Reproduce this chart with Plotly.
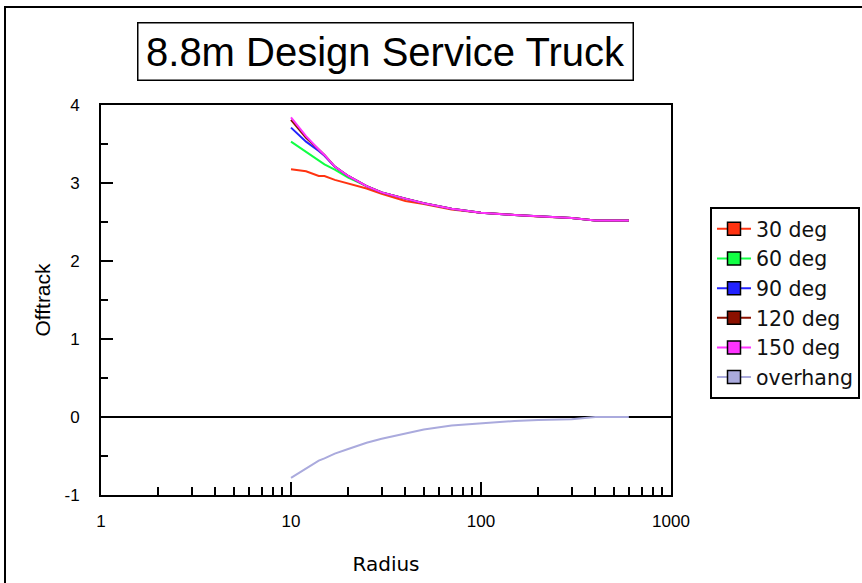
import plotly.graph_objects as go

radius = [10, 12, 14, 15, 17, 20, 25, 30, 40, 50, 70, 100, 150, 200, 300, 400, 600]

deg30 = [3.175, 3.15, 3.09, 3.09, 3.04, 2.99, 2.93, 2.86, 2.77, 2.73, 2.66, 2.62, 2.59, 2.57, 2.55, 2.52, 2.52]
deg60 = [3.53, 3.40, 3.29, 3.24, 3.17, 3.07, 2.96, 2.88, 2.80, 2.74, 2.67, 2.62, 2.59, 2.57, 2.55, 2.52, 2.52]
deg90 = [3.71, 3.53, 3.41, 3.35, 3.21, 3.09, 2.96, 2.88, 2.80, 2.74, 2.67, 2.62, 2.59, 2.57, 2.55, 2.52, 2.52]
deg120 = [3.81, 3.58, 3.43, 3.36, 3.21, 3.09, 2.96, 2.88, 2.80, 2.74, 2.67, 2.62, 2.59, 2.57, 2.55, 2.52, 2.52]
deg150 = [3.84, 3.60, 3.43, 3.36, 3.21, 3.09, 2.96, 2.88, 2.80, 2.74, 2.67, 2.62, 2.59, 2.57, 2.55, 2.52, 2.52]
overhang = [-0.78, -0.66, -0.56, -0.53, -0.47, -0.41, -0.33, -0.28, -0.21, -0.16, -0.11, -0.08, -0.05, -0.04, -0.03, 0.0, 0.0]

names = ["30 deg", "60 deg", "90 deg", "120 deg", "150 deg", "overhang"]
series = [deg30, deg60, deg90, deg120, deg150, overhang]
colors = ["#FF3311", "#11FF44", "#2222FF", "#8B1100", "#FF33FF", "#AAAADD"]

title_text = "8.8m Design Service Truck"
x_ticks = [1, 10, 100, 1000]
y_ticks = [-1, 0, 1, 2, 3, 4]

W, H = 862, 583
L, R, T, B = 101, 671, 105, 495  # plot area in figure px
PW, PH = R - L, B - T


def px(x):
    return (x - L) / PW


def py(y):
    return (B - y) / PH


fig = go.Figure()
for name, ys, c in zip(names, series, colors):
    fig.add_trace(go.Scatter(x=radius, y=ys, mode="lines", line=dict(color=c, width=2),
                             showlegend=False))
for name, c in zip(names, colors):
    fig.add_trace(go.Scatter(x=[None], y=[None], mode="lines+markers", name=name,
                             line=dict(color=c, width=2),
                             marker=dict(symbol="square", size=13, color=c,
                                         line=dict(color="black", width=1.5))))

fig.update_layout(
    width=W, height=H,
    margin=dict(l=L, r=W - R, t=T, b=H - B, autoexpand=False),
    paper_bgcolor="white", plot_bgcolor="white",
    font=dict(family="Liberation Sans, Arial", size=17, color="black"),
    showlegend=True,
    legend=dict(xref="container", yref="container",
                x=710 / W, y=1 - 207 / H, xanchor="left", yanchor="top",
                bordercolor="black", borderwidth=2, bgcolor="white",
                font=dict(family="DejaVu Sans", size=20.5, color="#111111"),
                itemwidth=34),
    xaxis=dict(type="log", range=[0, 3], tickvals=x_ticks, ticktext=[str(v) for v in x_ticks],
               ticks="inside", ticklen=13, tickwidth=1.5, tickcolor="black",
               tickfont=dict(size=17),
               showline=True, linecolor="black", linewidth=2, mirror=True,
               showgrid=False, zeroline=False, ticklabelstandoff=10,
               minor=dict(ticks="inside", ticklen=8, tickwidth=1.5, tickcolor="black",
                          dtick="D1", showgrid=False),
               title=dict(text="Radius", font=dict(family="DejaVu Sans", size=20), standoff=27)),
    yaxis=dict(range=[-1, 4], tickvals=y_ticks, ticktext=[str(v) for v in y_ticks],
               ticks="inside", ticklen=12, tickwidth=1.5, tickcolor="black",
               tickfont=dict(size=17),
               showline=True, linecolor="black", linewidth=2, mirror=True,
               showgrid=False, zeroline=True, zerolinecolor="black", zerolinewidth=1.5,
               ticklabelstandoff=16,
               minor=dict(ticks="inside", ticklen=7, tickwidth=1.5, tickcolor="black",
                          dtick=0.5, showgrid=False),
               title=dict(text="Offtrack", font=dict(family="Liberation Sans", size=21), standoff=8)),
    annotations=[dict(text=title_text, xref="paper", yref="paper",
                      x=px(385), y=py(51), xanchor="center", yanchor="middle",
                      width=490, height=52,
                      showarrow=False, bordercolor="black", borderwidth=1.5, borderpad=2,
                      bgcolor="white",
                      font=dict(family="Liberation Sans Narrow, Arial Narrow, Liberation Sans", size=40, color="black"))],
    shapes=[dict(type="rect", xref="paper", yref="paper",
                 x0=px(5), x1=px(900), y0=py(620), y1=py(7),
                 line=dict(color="black", width=2), layer="below")],
)

fig.write_html("out.html", config={"displayModeBar": False},
               post_script="document.body.style.margin='0';document.body.style.padding='0';")
